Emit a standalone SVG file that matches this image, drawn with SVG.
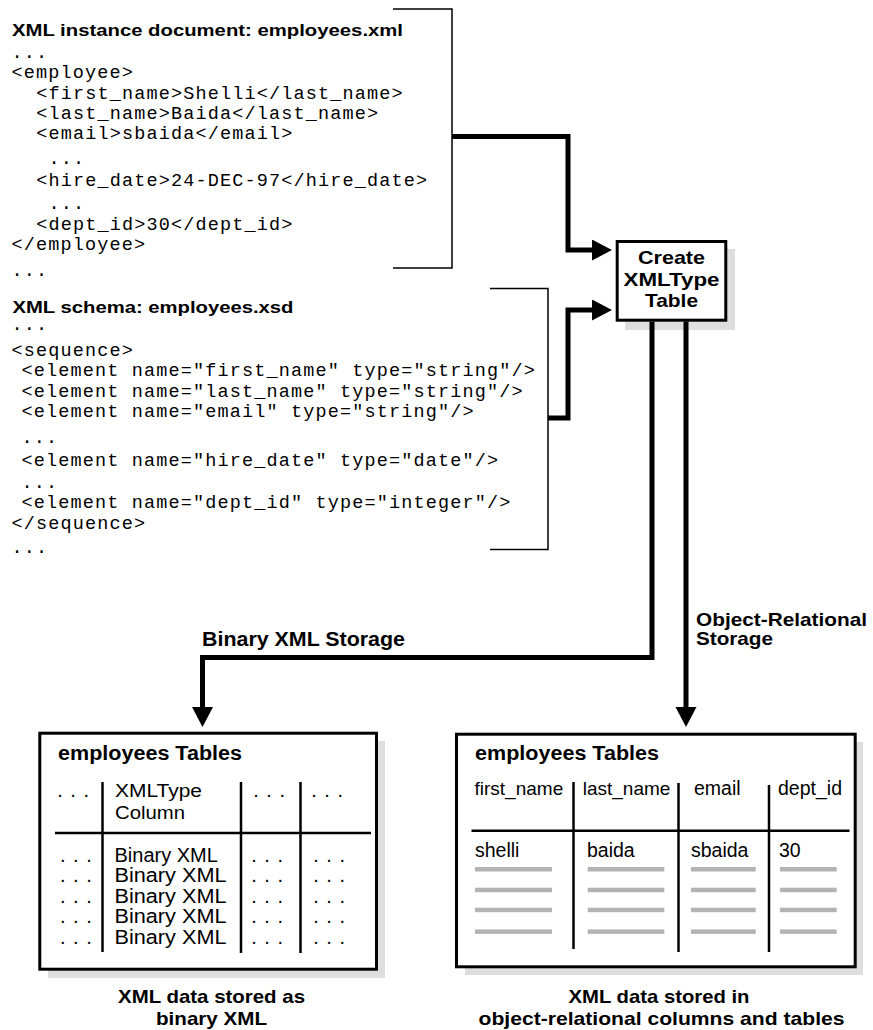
<svg xmlns="http://www.w3.org/2000/svg" width="873" height="1030" viewBox="0 0 873 1030">
<style>
.mono{font-family:"Liberation Mono","DejaVu Sans Mono",monospace;font-size:18.5px;letter-spacing:1.15px;fill:#000}
.bold{font-family:"Liberation Sans",Arial,sans-serif;font-weight:bold;fill:#000}
.reg{font-family:"Liberation Sans",Arial,sans-serif;fill:#000}
.dots{font-family:"Liberation Sans",Arial,sans-serif;font-size:20px;letter-spacing:1px;fill:#000}
.bracket{fill:none;stroke:#000;stroke-width:1.5}
.conn{fill:none;stroke:#000;stroke-width:5;stroke-linejoin:miter}
.box{fill:#fff;stroke:#000;stroke-width:3}
.shadow{fill:#dedede}
.sep{stroke:#000;stroke-width:2.5}
.bar{fill:#b3b3b3}
</style>
<defs>
<marker id="arrow" markerUnits="userSpaceOnUse" markerWidth="22" markerHeight="22" refX="0" refY="10.5" orient="auto">
<path d="M0,0 L20,10.5 L0,21 z" fill="#000"/>
</marker>
</defs>

<g id="instance-doc">
<text class="bold" x="12" y="36" font-size="16.5" textLength="391" lengthAdjust="spacingAndGlyphs">XML instance document: employees.xml</text>
<text class="mono" x="11.5" y="58">...</text>
<text class="mono" x="11.5" y="78">&lt;employee&gt;</text>
<text class="mono" x="36.2" y="98.5">&lt;first_name&gt;Shelli&lt;/last_name&gt;</text>
<text class="mono" x="36.2" y="118.5">&lt;last_name&gt;Baida&lt;/last_name&gt;</text>
<text class="mono" x="36.2" y="138.5">&lt;email&gt;sbaida&lt;/email&gt;</text>
<text class="mono" x="48.5" y="164">...</text>
<text class="mono" x="36.2" y="186">&lt;hire_date&gt;24-DEC-97&lt;/hire_date&gt;</text>
<text class="mono" x="48.5" y="209">...</text>
<text class="mono" x="36.2" y="229.5">&lt;dept_id&gt;30&lt;/dept_id&gt;</text>
<text class="mono" x="11.5" y="250">&lt;/employee&gt;</text>
<text class="mono" x="11.5" y="276">...</text>
<path class="bracket" d="M393,9 H452 V268 H393"/>
</g>

<g id="schema-doc">
<text class="bold" x="12.5" y="313" font-size="16.5" textLength="281" lengthAdjust="spacingAndGlyphs">XML schema: employees.xsd</text>
<text class="mono" x="11.5" y="330">...</text>
<text class="mono" x="11.5" y="355.5">&lt;sequence&gt;</text>
<text class="mono" x="21.5" y="376">&lt;element name="first_name" type="string"/&gt;</text>
<text class="mono" x="21.5" y="396.5">&lt;element name="last_name" type="string"/&gt;</text>
<text class="mono" x="21.5" y="417">&lt;element name="email" type="string"/&gt;</text>
<text class="mono" x="21.5" y="443">...</text>
<text class="mono" x="21.5" y="466">&lt;element name="hire_date" type="date"/&gt;</text>
<text class="mono" x="21.5" y="488">...</text>
<text class="mono" x="21.5" y="508">&lt;element name="dept_id" type="integer"/&gt;</text>
<text class="mono" x="11.5" y="528.5">&lt;/sequence&gt;</text>
<text class="mono" x="11.5" y="553">...</text>
<path class="bracket" d="M490,288.5 H548 V549.5 H490"/>
</g>

<g id="create-table">
<rect class="shadow" x="625" y="249" width="110" height="81"/>
<rect class="box" x="617.2" y="241.5" width="108.6" height="78.7"/>
<text class="bold" x="671.5" y="263.5" font-size="18.5" text-anchor="middle" textLength="67" lengthAdjust="spacingAndGlyphs">Create</text>
<text class="bold" x="671.5" y="285.7" font-size="18.5" text-anchor="middle" textLength="96" lengthAdjust="spacingAndGlyphs">XMLType</text>
<text class="bold" x="671.5" y="306.7" font-size="18.5" text-anchor="middle" textLength="53" lengthAdjust="spacingAndGlyphs">Table</text>
</g>

<g id="connectors">
<path class="conn" d="M452,136.5 H568 V250 H592" marker-end="url(#arrow)"/>
<path class="conn" d="M548,418 H568 V310 H592" marker-end="url(#arrow)"/>
<path class="conn" d="M652,321.5 V657.5 H202.5 V707" marker-end="url(#arrow)"/>
<path class="conn" d="M686,321.5 V707" marker-end="url(#arrow)"/>
<text class="bold" x="202" y="646" font-size="20" textLength="203" lengthAdjust="spacingAndGlyphs">Binary XML Storage</text>
<text class="bold" x="696" y="626" font-size="18.5" textLength="171" lengthAdjust="spacingAndGlyphs">Object-Relational</text>
<text class="bold" x="696" y="645" font-size="18.5" textLength="77" lengthAdjust="spacingAndGlyphs">Storage</text>
</g>

<g id="binary-table">
<rect class="shadow" x="48" y="741" width="337" height="237"/>
<rect class="box" x="39.8" y="733.2" width="336.7" height="236"/>
<text class="bold" x="58" y="760" font-size="19.5" textLength="184" lengthAdjust="spacingAndGlyphs">employees Tables</text>
<line class="sep" x1="102.5" y1="782" x2="102.5" y2="952"/>
<line class="sep" x1="241" y1="782" x2="241" y2="953"/>
<line class="sep" x1="300.5" y1="782" x2="300.5" y2="953"/>
<line class="sep" x1="55" y1="833" x2="371" y2="833"/>
<text class="dots" x="57.2" y="797">. . .</text>
<text class="reg" x="115" y="797.3" font-size="18" textLength="87" lengthAdjust="spacingAndGlyphs">XMLType</text>
<text class="reg" x="115" y="819.3" font-size="18" textLength="70" lengthAdjust="spacingAndGlyphs">Column</text>
<text class="dots" x="253.2" y="797">. . .</text>
<text class="dots" x="311.2" y="797">. . .</text>
<text class="reg" x="114.5" y="861.7" font-size="20">Binary XML</text>
<text class="reg" x="114.5" y="882.2" font-size="20" textLength="112" lengthAdjust="spacingAndGlyphs">Binary XML</text>
<text class="reg" x="114.5" y="902.7" font-size="20" textLength="112" lengthAdjust="spacingAndGlyphs">Binary XML</text>
<text class="reg" x="114.5" y="923.2" font-size="20" textLength="112" lengthAdjust="spacingAndGlyphs">Binary XML</text>
<text class="reg" x="114.5" y="943.5" font-size="20" textLength="112" lengthAdjust="spacingAndGlyphs">Binary XML</text>
<text class="dots" x="60" y="861.7">. . .</text>
<text class="dots" x="60" y="882.2">. . .</text>
<text class="dots" x="60" y="902.7">. . .</text>
<text class="dots" x="60" y="923.2">. . .</text>
<text class="dots" x="60" y="943.5">. . .</text>
<text class="dots" x="251.2" y="861.7">. . .</text>
<text class="dots" x="251.2" y="882.2">. . .</text>
<text class="dots" x="251.2" y="902.7">. . .</text>
<text class="dots" x="251.2" y="923.2">. . .</text>
<text class="dots" x="251.2" y="943.5">. . .</text>
<text class="dots" x="313.2" y="861.7">. . .</text>
<text class="dots" x="313.2" y="882.2">. . .</text>
<text class="dots" x="313.2" y="902.7">. . .</text>
<text class="dots" x="313.2" y="923.2">. . .</text>
<text class="dots" x="313.2" y="943.5">. . .</text>
<text class="bold" x="211.5" y="1003" font-size="18.5" text-anchor="middle" textLength="187" lengthAdjust="spacingAndGlyphs">XML data stored as</text>
<text class="bold" x="211.5" y="1025" font-size="18.5" text-anchor="middle" textLength="111" lengthAdjust="spacingAndGlyphs">binary XML</text>
</g>

<g id="or-table">
<rect class="shadow" x="465" y="742" width="398" height="233"/>
<rect class="box" x="456.5" y="734.2" width="398.7" height="232.6"/>
<text class="bold" x="475" y="760" font-size="19.5" textLength="184" lengthAdjust="spacingAndGlyphs">employees Tables</text>
<text class="reg" x="474.5" y="795" font-size="19">first_name</text>
<text class="reg" x="582.7" y="795" font-size="19">last_name</text>
<text class="reg" x="694" y="795" font-size="19.5">email</text>
<text class="reg" x="778" y="795" font-size="19.5">dept_id</text>
<line class="sep" x1="573.5" y1="782" x2="573.5" y2="949"/>
<line class="sep" x1="678.5" y1="783" x2="678.5" y2="952"/>
<line class="sep" x1="769" y1="785" x2="769" y2="952"/>
<line class="sep" x1="471.5" y1="830.7" x2="849.5" y2="830.7"/>
<text class="reg" x="475" y="856.7" font-size="19.5">shelli</text>
<text class="reg" x="587" y="856.7" font-size="19.5">baida</text>
<text class="reg" x="691" y="856.7" font-size="19.5">sbaida</text>
<text class="reg" x="779" y="856.7" font-size="19.5">30</text>
<rect class="bar" x="475" y="867" width="77" height="4.5"/>
<rect class="bar" x="587.7" y="867" width="76.6" height="4.5"/>
<rect class="bar" x="691" y="867" width="64.7" height="4.5"/>
<rect class="bar" x="780" y="867" width="56.7" height="4.5"/>
<rect class="bar" x="475" y="887.7" width="77" height="4.5"/>
<rect class="bar" x="587.7" y="887.7" width="76.6" height="4.5"/>
<rect class="bar" x="691" y="887.7" width="64.7" height="4.5"/>
<rect class="bar" x="780" y="887.7" width="56.7" height="4.5"/>
<rect class="bar" x="475" y="907.7" width="77" height="4.5"/>
<rect class="bar" x="587.7" y="907.7" width="76.6" height="4.5"/>
<rect class="bar" x="691" y="907.7" width="64.7" height="4.5"/>
<rect class="bar" x="780" y="907.7" width="56.7" height="4.5"/>
<rect class="bar" x="475" y="929.4" width="77" height="4.5"/>
<rect class="bar" x="587.7" y="929.4" width="76.6" height="4.5"/>
<rect class="bar" x="691" y="929.4" width="64.7" height="4.5"/>
<rect class="bar" x="780" y="929.4" width="56.7" height="4.5"/>
<text class="bold" x="659" y="1003" font-size="18.5" text-anchor="middle" textLength="181" lengthAdjust="spacingAndGlyphs">XML data stored in</text>
<text class="bold" x="661.5" y="1025" font-size="18.5" text-anchor="middle" textLength="366" lengthAdjust="spacingAndGlyphs">object-relational columns and tables</text>
</g>
</svg>
